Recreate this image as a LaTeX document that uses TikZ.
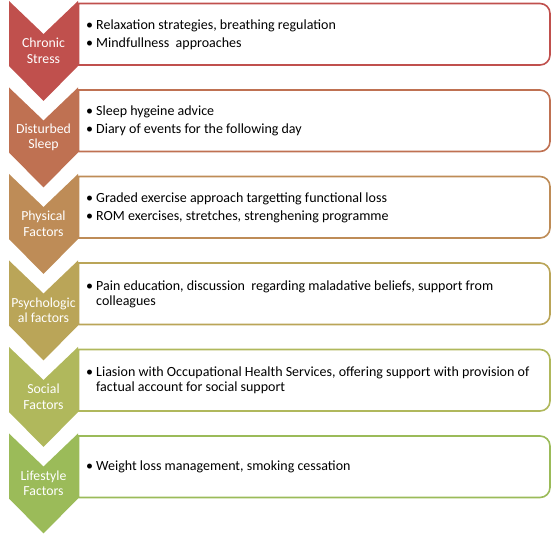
\documentclass[tikz,border=0pt]{standalone}
\usepackage{fontspec}
\setmainfont{Carlito}
\definecolor{cA}{RGB}{192,80,77}
\definecolor{cB}{RGB}{191,113,82}
\definecolor{cC}{RGB}{190,140,87}
\definecolor{cD}{RGB}{186,165,88}
\definecolor{cE}{RGB}{176,184,92}
\definecolor{cF}{RGB}{155,187,89}
\newcommand\bul{\makebox[10pt][l]{\textbullet}}
\newcommand\myrow[5]{%
  \pgfmathsetmacro\T{1+86.5*#1}%
  \draw[boxline=#2] (78.5,-\T-2.5) -- (540,-\T-2.5)
     arc[start angle=90,end angle=0,radius=10] -- (550,-\T-54)
     arc[start angle=0,end angle=-90,radius=10] -- (78.5,-\T-64) -- cycle;
  \fill[#2] (9,-\T) -- (43.5,-\T-33) -- (78,-\T) -- (78,-\T-65)
     -- (43.5,-\T-100) -- (9,-\T-65) -- cycle;
  \node[chevlab] (#5c) at (43.5,-\T-50) {#3};
  \node[bodytext] (#5b) at (86,-\T-33.5) {#4};
}
\begin{document}
\begin{tikzpicture}[x=1pt,y=1pt,
  boxline/.style={draw=#1,line width=1.6pt,fill=white},
  chevlab/.style={text=white,align=center,inner sep=0pt,
     font=\fontsize{13.8}{15.5}\selectfont},
  bodytext/.style={anchor=west,align=left,inner sep=0pt,text=black,
     font=\fontsize{14}{15}\selectfont}]
\useasboundingbox (0,0) rectangle (560,-534);
\myrow{0}{cA}{Chronic\\Stress}{\bul Relaxation strategies, breathing regulation\\[3pt]\bul Mindfullness\ \ approaches}{r1}
\myrow{1}{cB}{Disturbed\\Sleep}{\bul Sleep hygeine advice\\[3pt]\bul Diary of events for the following day}{r2}
\myrow{2}{cC}{Physical\\Factors}{\bul Graded exercise approach targetting functional loss\\[3pt]\bul ROM exercises, stretches, strenghening programme}{r3}
\myrow{3}{cD}{Psychologic\\al factors}{\bul Pain education, discussion\ \ regarding maladative beliefs, support from\\\hspace*{10pt}colleagues}{r4}
\myrow{4}{cE}{Social\\Factors}{\bul Liasion with Occupational Health Services, offering support with provision of\\\hspace*{10pt}factual account for social support}{r5}
\myrow{5}{cF}{Lifestyle\\Factors}{\bul Weight loss management, smoking cessation}{r6}
\end{tikzpicture}
\end{document}
